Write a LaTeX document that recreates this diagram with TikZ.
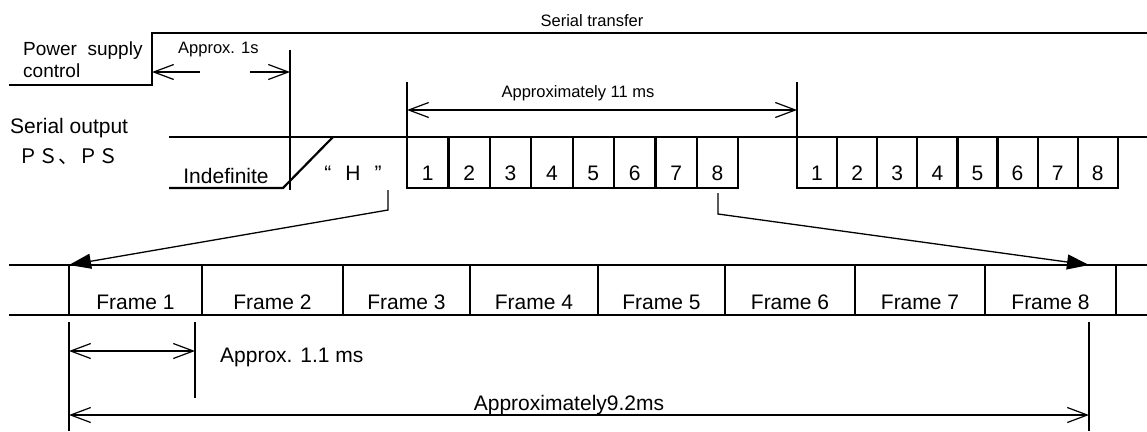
\documentclass[tikz,border=0pt]{standalone}
\usepackage{fontspec}
\setmainfont{Liberation Sans}
\newfontfamily\cjkfont{Noto Sans CJK JP}
\usetikzlibrary{arrows.meta, positioning, calc}

\begin{document}
\begin{tikzpicture}[x=1pt, y=-1pt,
  sig/.style={line width=2.2pt},
  dim/.style={line width=1.2pt},
  dimarr/.style={dim, {Straight Barb[length=20pt,width=15pt]}-{Straight Barb[length=20pt,width=15pt]}},
  onearr/.style={dim, -{Straight Barb[length=20pt,width=15pt]}},
  jump/.style={line width=1.3pt, -{Triangle[length=22pt,width=15pt]}},
  lbl/.style={inner sep=0pt, font=\fontsize{21}{24}\selectfont},
  smalllbl/.style={inner sep=0pt, font=\fontsize{16.5}{19}\selectfont},
]
  \useasboundingbox (0,0) rectangle (1147,431);

  \draw[sig] (9,85) -- (152,85) -- (152,33) -- (1147,33);
  \node[smalllbl, anchor=base] (title) at (592,27) {Serial transfer};
  \node[lbl, font=\fontsize{19}{22}\selectfont, anchor=base west] (psc1) at (23,55) {Power\ \ supply};
  \node[lbl, font=\fontsize{19}{22}\selectfont, anchor=base west] (psc2) at (23,77) {control};
  \node[smalllbl, anchor=base west] (onesec) at (178,53) {Approx. 1s};
  \coordinate (rise) at (152,72);
  \coordinate (risefree) at (200,72);
  \coordinate (sync) at (290,72);
  \coordinate (syncfree) at (250,72);
  \coordinate (synctop) at (290,50);
  \coordinate (syncbot) at (290,190);
  \draw[onearr] (risefree) -- (rise);
  \draw[onearr] (syncfree) -- (sync);
  \draw[dim] (synctop) -- (syncbot);

  \node[lbl, anchor=base west] (sout) at (10,133) {Serial output};
  \node[lbl, font=\cjkfont\fontsize{20}{24}\selectfont, anchor=base west] (ps) at (18,163) {ＰＳ、ＰＳ};
  \draw[sig] (169,137) -- (1147,137);
  \draw[sig] (169,188) -- (283,188) -- (333,137);
  \node[lbl, anchor=base] (indef) at (226,183) {Indefinite};
  \node[lbl, anchor=base] (hi) at (353,180) {“\hspace{14pt}H\hspace{14pt}”};

  \foreach \i in {1,...,8} {
    \draw[sig] ({407+41.4*(\i-1)},137) rectangle ++(41.4,51);
    \node[lbl, anchor=base] (a\i) at ({407+41.4*(\i-0.5)},180) {\i};
  }
  \foreach \i in {1,...,8} {
    \draw[sig] ({797+40.1*(\i-1)},137) rectangle ++(40.1,51);
    \node[lbl, anchor=base] (b\i) at ({797+40.1*(\i-0.5)},180) {\i};
  }

  \draw[dim] (407,82) -- (407,137);
  \draw[dim] (797,82) -- (797,137);
  \coordinate (m11a) at (407,110);
  \coordinate (m11b) at (797,110);
  \draw[dimarr] (m11a) -- (m11b);
  \node[smalllbl, anchor=base] (m11) at (578,97) {Approximately 11 ms};

  \coordinate (hfoot) at (388,190);
  \coordinate (hbend) at (388,210);
  \coordinate (f1in) at (69,265);
  \coordinate (e8foot) at (718,193);
  \coordinate (e8bend) at (718,214);
  \coordinate (f8in) at (1089,265);
  \draw[jump] (hfoot) -- (hbend) -- (f1in);
  \draw[jump] (e8foot) -- (e8bend) -- (f8in);

  \draw[sig] (9,265) -- (1147,265);
  \draw[sig] (9,315) -- (1147,315);
  \foreach \l/\r [count=\i] in {69/202,202/343,343/470,470/598,598/725,725/855,855/985,985/1116} {
    \draw[sig] (\l,265) -- (\l,315);
    \node[lbl, anchor=base] (f\i) at ({(\l+\r)/2},309) {Frame \i};
  }
  \draw[sig] (1116,265) -- (1116,315);

  \draw[dim] (69,322) -- (69,431);
  \draw[dim] (195,322) -- (195,398);
  \draw[dim] (1089,322) -- (1089,431);
  \coordinate (d1a) at (69,351);
  \coordinate (d1b) at (195,351);
  \coordinate (d2a) at (69,415);
  \coordinate (d2b) at (1089,415);
  \draw[dimarr] (d1a) -- (d1b);
  \draw[dimarr] (d2a) -- (d2b);
  \node[lbl, anchor=base west] (d11) at (220,362) {Approx. 1.1 ms};
  \node[lbl, anchor=base] (d92) at (569,410) {Approximately9.2ms};
\end{tikzpicture}
\end{document}
